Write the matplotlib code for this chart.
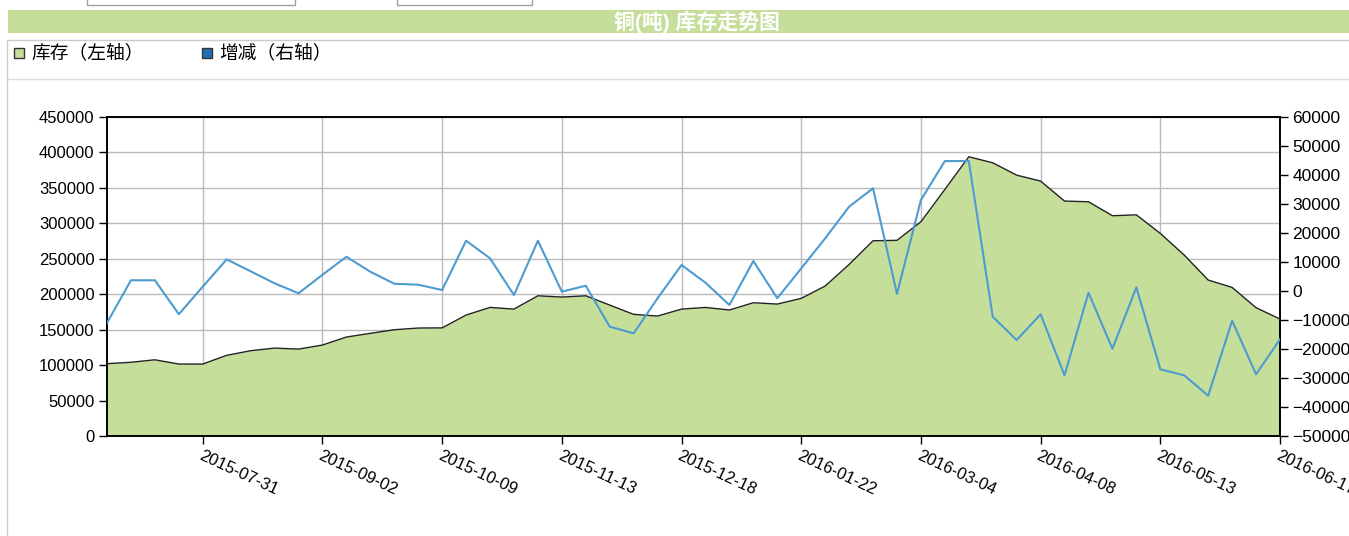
import numpy as np
import matplotlib.pyplot as plt
from matplotlib.patches import Rectangle
from matplotlib.transforms import ScaledTranslation

plt.rcParams['font.family'] = ['Liberation Sans', 'Noto Sans CJK SC', 'DejaVu Sans']

# weekly copper stock (left axis) and weekly change (right axis)
stock = [102000, 104000, 107500, 101500, 101500, 113800, 120300, 124000, 122600, 128300,
         139600, 144800, 149900, 152300, 152500, 170600, 181400, 179000, 197800, 196000,
         197800, 184700, 171600, 169200, 179000, 181400, 177700, 188000, 186100, 194100,
         211500, 242000, 275400, 276000, 302200, 347800, 393900, 385400, 368000, 359600,
         331400, 330400, 310700, 312000, 285800, 255200, 220000, 209600, 181000, 165000]
change = [-11000, 3700, 3700, -8000, 1500, 10900, 6800, 2650, -800, 5600,
          11800, 6650, 2500, 2170, 340, 17350, 11260, -1400, 17350, -240,
          1830, -12300, -14600, -2500, 8960, 2870, -4830, 10340, -2500, 7800,
          18150, 29070, 35400, -1000, 31370, 44800, 44800, -8860, -16900, -8040,
          -29080, -580, -19900, 1260, -27000, -29080, -36100, -10240, -28730, -16660]
tick_idx = [4, 9, 14, 19, 24, 29, 34, 39, 44, 49]
tick_labels = ['2015-07-31', '2015-09-02', '2015-10-09', '2015-11-13', '2015-12-18',
               '2016-01-22', '2016-03-04', '2016-04-08', '2016-05-13', '2016-06-17']

W, H = 1349, 536
fig = plt.figure(figsize=(W / 100, H / 100), dpi=100)
fig.patch.set_facecolor('white')

green = '#c5df9b'
blue = '#4d9bd0'

# header pieces
fig.patches.append(Rectangle((8 / W, 1 - 33 / H), 1, 23 / H, transform=fig.transFigure,
                             facecolor=green, edgecolor='none'))
fig.text(697 / W, 1 - 22 / H, '铜(吨) 库存走势图', color='white', fontsize=15,
         fontweight='bold', ha='center', va='center')
for x0, x1 in [(87, 295), (397, 532)]:
    fig.patches.append(Rectangle((x0 / W, 1 - 5 / H), (x1 - x0) / W, 10 / H,
                                 transform=fig.transFigure, facecolor='white',
                                 edgecolor='#a0a0a0', lw=1))
fig.patches.append(Rectangle((7 / W, -0.1), 1, 1 - 40 / H + 0.1, transform=fig.transFigure,
                             facecolor='none', edgecolor='#cccccc', lw=1))
fig.lines.append(plt.Line2D([7 / W, 1], [1 - 79 / H, 1 - 79 / H], transform=fig.transFigure,
                            color='#dddddd', lw=1))

# legend
fig.patches.append(Rectangle((14 / W, 1 - 58 / H), 10 / W, 10 / H, transform=fig.transFigure,
                             facecolor=green, edgecolor='#333333', lw=1))
fig.text(31 / W, 1 - 53 / H, '库存（左轴）', fontsize=13.5, va='center', ha='left')
fig.patches.append(Rectangle((202 / W, 1 - 58 / H), 10 / W, 10 / H, transform=fig.transFigure,
                             facecolor='#1f6fb2', edgecolor='#333333', lw=1))
fig.text(219 / W, 1 - 53 / H, '增减（右轴）', fontsize=13.5, va='center', ha='left')

ax = fig.add_axes([107 / W, 1 - 436 / H, (1280 - 107) / W, (436 - 117) / H])
x = np.arange(len(stock))
ax.fill_between(x, stock, 0, color=green, lw=0, zorder=2)
ax.plot(x, stock, color='#222222', lw=1, zorder=3)
ax.set_xlim(0, len(stock) - 1)
ax.set_ylim(0, 450000)
ax.set_yticks(np.arange(0, 450001, 50000))
ax.set_xticks(tick_idx)
ax.set_xticklabels(tick_labels, rotation=-25, ha='left', va='top', rotation_mode='anchor',
                   fontsize=12.5)
shift = ScaledTranslation(5 / 100, 0, fig.dpi_scale_trans)
for lab in ax.get_xticklabels():
    lab.set_transform(lab.get_transform() + shift)
ax.grid(True, color='#bbbbbb', lw=1, zorder=1)
ax.set_axisbelow(True)
ax.tick_params(direction='out', length=6, width=1, labelsize=12, color='black', pad=3)
for s in ax.spines.values():
    s.set_color('black')
    s.set_linewidth(1.2)

ax2 = ax.twinx()
ax2.plot(x, change, color=blue, lw=1.5, zorder=4)
ax2.set_ylim(-50000, 60000)
ax2.set_yticks(np.arange(-50000, 60001, 10000))
ax2.tick_params(direction='out', length=6, width=1, labelsize=12.5, color='black', pad=3)
for s in ax2.spines.values():
    s.set_color('black')
    s.set_linewidth(1.2)

fig.savefig('out.png', dpi=100)
